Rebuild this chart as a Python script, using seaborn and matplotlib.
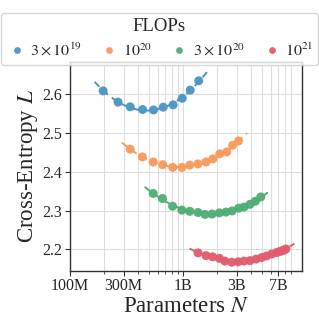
import numpy as np
import pandas as pd
import matplotlib.pyplot as plt
import matplotlib.ticker as mticker
import seaborn as sns

# compute budgets and (params, loss) points
budgets = ['$3\\times10^{19}$', '$10^{20}$', '$3\\times10^{20}$', '$10^{21}$']
colors = ['#4a94c4', '#f79a5a', '#4dad73', '#e05c6e']

params_3e19 = [1.97e8, 2.67e8, 3.42e8, 4.4e8, 5.5e8, 6.7e8, 8.2e8, 9.86e8, 1.16e9, 1.38e9]
loss_3e19 = [2.608, 2.579, 2.567, 2.560, 2.559, 2.566, 2.572, 2.589, 2.610, 2.634]

params_1e20 = [3.42e8, 4.38e8, 5.46e8, 6.62e8, 8.13e8, 9.8e8, 1.15e9, 1.36e9, 1.6e9,
               1.84e9, 2.12e9, 2.44e9, 2.75e9, 3.1e9]
loss_1e20 = [2.458, 2.438, 2.425, 2.418, 2.411, 2.411, 2.417, 2.420, 2.425,
             2.433, 2.446, 2.451, 2.468, 2.479]

params_3e20 = [5.46e8, 6.6e8, 8.1e8, 9.8e8, 1.15e9, 1.36e9, 1.57e9, 1.81e9, 2.1e9,
               2.4e9, 2.72e9, 3.11e9, 3.47e9, 3.92e9, 4.37e9, 4.88e9]
loss_3e20 = [2.344, 2.331, 2.311, 2.301, 2.298, 2.295, 2.290, 2.291, 2.294,
             2.296, 2.299, 2.306, 2.309, 2.316, 2.324, 2.335]

params_1e21 = [1.36e9, 1.6e9, 1.83e9, 2.1e9, 2.35e9, 2.7e9, 3.08e9, 3.47e9, 3.92e9,
               4.43e9, 4.97e9, 5.5e9, 6.1e9, 6.75e9, 7.1e9, 7.47e9, 7.8e9, 8.16e9]
loss_1e21 = [2.191, 2.184, 2.181, 2.177, 2.170, 2.167, 2.168, 2.170, 2.171,
             2.175, 2.179, 2.183, 2.188, 2.192, 2.194, 2.196, 2.198, 2.201]

x_ticks = [1e8, 3e8, 1e9, 3e9, 7e9]
x_ticklabels = ['100M', '300M', '1B', '3B', '7B']
y_ticks = [2.2, 2.3, 2.4, 2.5, 2.6]

series = [(params_3e19, loss_3e19), (params_1e20, loss_1e20),
          (params_3e20, loss_3e20), (params_1e21, loss_1e21)]
df = pd.concat([pd.DataFrame({'N': n, 'L': l, 'FLOPs': b})
                for (n, l), b in zip(series, budgets)], ignore_index=True)

sns.set_style('whitegrid')
plt.rcParams['font.family'] = ['Liberation Serif', 'DejaVu Serif']
plt.rcParams['mathtext.fontset'] = 'stix'

fig = plt.figure(figsize=(3.19, 3.27), dpi=100)
ax = fig.add_axes([0.219, 0.172, 0.729, 0.638])

# quadratic fit in log N, drawn dashed a little past the data
for (n, l), c in zip(series, colors):
    logn = np.log10(n)
    coef = np.polyfit(logn, l, 2)
    xs = np.linspace(logn.min() - 0.075, logn.max() + 0.075, 100)
    ax.plot(10 ** xs, np.polyval(coef, xs), ls=(0, (3.5, 2.5)), lw=1.4, color=c, zorder=2)

sns.scatterplot(data=df, x='N', y='L', hue='FLOPs', palette=colors, s=42,
                edgecolor='none', alpha=0.95, ax=ax, zorder=3, legend=True)

ax.set_xscale('log')
ax.set_xlim(1e8, 1.14e10)
ax.set_ylim(2.145, 2.682)
ax.xaxis.set_major_locator(mticker.FixedLocator(x_ticks))
ax.xaxis.set_major_formatter(mticker.FixedFormatter(x_ticklabels))
ax.xaxis.set_minor_locator(mticker.LogLocator(base=10, subs=np.arange(2, 10)))
ax.xaxis.set_minor_formatter(mticker.NullFormatter())
ax.set_yticks(y_ticks)
ax.grid(which='both', color='#dddddd', lw=0.8)
ax.tick_params(axis='both', which='major', labelsize=11.5, length=3.5, color='#333333', pad=2)
ax.tick_params(axis='x', which='minor', length=2, color='#333333')
ax.tick_params(bottom=True, left=True, which='both')
for sp in ax.spines.values():
    sp.set_color('#333333')
    sp.set_linewidth(1.0)

ax.set_xlabel('Parameters $N$', fontsize=16.5, labelpad=1)
ax.set_ylabel('Cross-Entropy $L$', fontsize=16.5, labelpad=2)

handles, labels = ax.get_legend_handles_labels()
ax.get_legend().remove()
leg = fig.legend(handles, labels, title='FLOPs', loc='upper center',
                 bbox_to_anchor=(0.5, 0.985), ncol=4, fontsize=11.5, title_fontsize=13.5,
                 handletextpad=0.15, columnspacing=1.0, borderpad=0.3, frameon=True,
                 markerscale=0.75, handlelength=1.4)
leg.get_frame().set_edgecolor('#cccccc')

fig.savefig('out.png', dpi=100)
